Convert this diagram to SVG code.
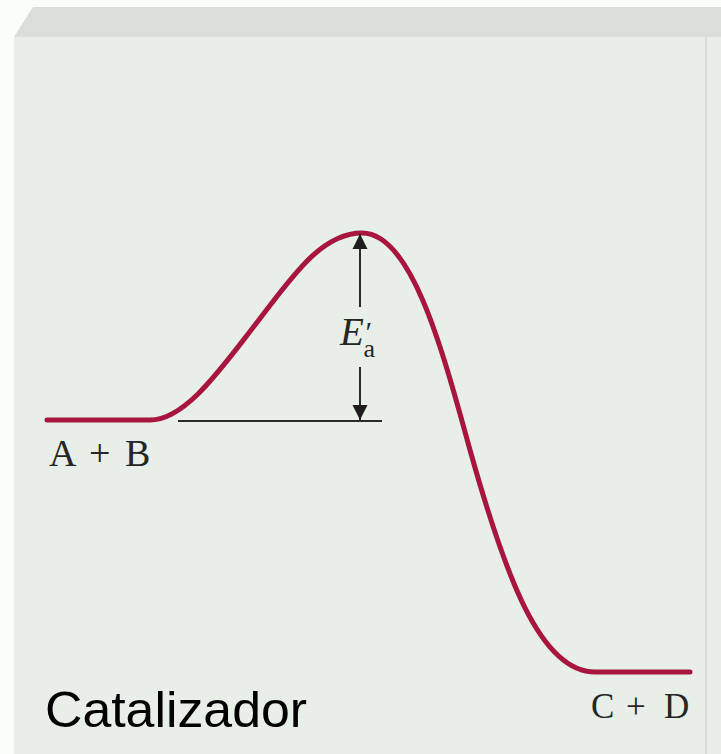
<svg xmlns="http://www.w3.org/2000/svg" width="721" height="754" viewBox="0 0 721 754">
  <style>
    .curve { fill: none; stroke: #a8153f; stroke-width: 5; stroke-linecap: round; stroke-linejoin: round; }
    .ink { stroke: #2a2a2a; stroke-width: 2; fill: none; }
    .serif { font-family: "Liberation Serif", "Times New Roman", serif; fill: #262626; }
    .sans { font-family: "Liberation Sans", Arial, sans-serif; fill: #000; }
  </style>
  <defs>
    <marker id="ah" viewBox="0 0 10 10" refX="10" refY="5" markerWidth="15" markerHeight="24" markerUnits="userSpaceOnUse" orient="auto">
      <path d="M0,0 L10,5 L0,10 Z" fill="#1e1e1e"/>
    </marker>
  </defs>
  <g id="background">
    <rect x="0" y="0" width="721" height="754" fill="#fbfdfb"/>
    <polygon points="33,7 721,7 721,37 14,37" fill="#d8ded8"/>
    <rect x="14" y="37" width="707" height="717" fill="#e8eee8"/>
    <line x1="706" y1="37" x2="706" y2="754" stroke="#d3d9d3" stroke-width="1.5"/>
  </g>
  <g id="reaction-curve">
    <path class="curve" d="M47,420 H150 C185,420 220,370 255,325 C290,280 320,233 362,233 C410,233 440,340 470,450 C505,575 540,672 595,672 H690"/>
  </g>
  <g id="connectors">
    <line class="ink" x1="360" y1="307" x2="360" y2="234" marker-end="url(#ah)"/>
    <line class="ink" x1="360" y1="367" x2="360" y2="420" marker-end="url(#ah)"/>
    <line class="ink" x1="178" y1="421" x2="382" y2="421"/>
  </g>
  <g id="label-ea">
    <text class="serif" x="340" y="345" font-size="39" font-style="italic">E<tspan font-size="30" dy="-3">′</tspan><tspan font-style="normal" font-size="26" dx="-7" dy="15">a</tspan></text>
  </g>
  <g id="label-ab">
    <text class="serif" y="466" font-size="38"><tspan x="49">A</tspan><tspan x="89">+</tspan><tspan x="125">B</tspan></text>
  </g>
  <g id="label-cd">
    <text class="serif" y="718" font-size="35"><tspan x="591">C</tspan><tspan x="626">+</tspan><tspan x="664">D</tspan></text>
  </g>
  <g id="label-catalizador">
    <text class="sans" x="45" y="727" font-size="50" textLength="262" lengthAdjust="spacingAndGlyphs">Catalizador</text>
  </g>
</svg>
